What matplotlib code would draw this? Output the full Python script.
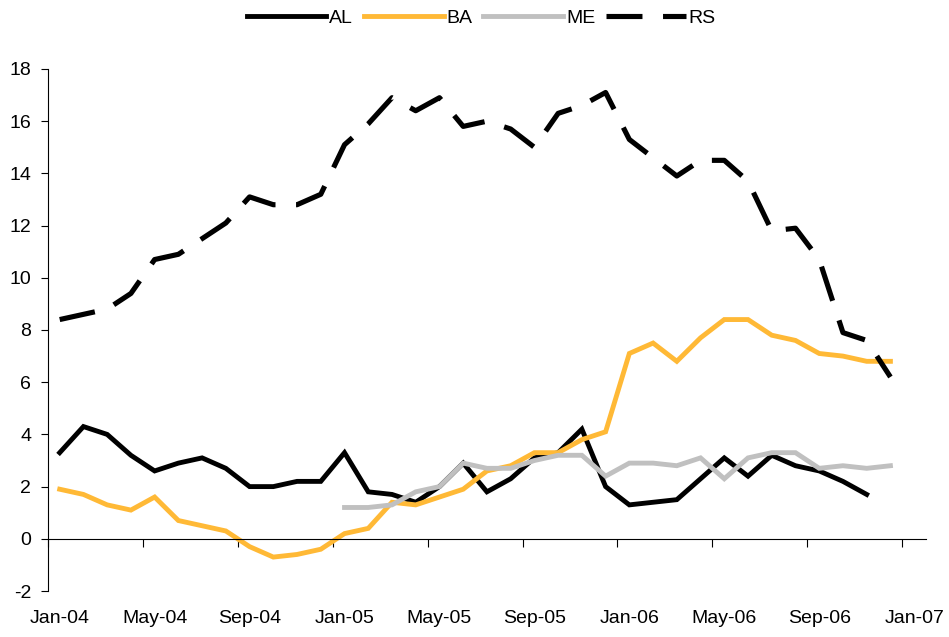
import numpy as np
import matplotlib
matplotlib.use("Agg")
import matplotlib.pyplot as plt

plt.rcParams['font.family'] = ['Liberation Sans', 'DejaVu Sans']
plt.rcParams['axes.unicode_minus'] = False

# monthly data, Jan-04 .. Dec-06
al = [3.3, 4.3, 4.0, 3.2, 2.6, 2.9, 3.1, 2.7, 2.0, 2.0, 2.2, 2.2,
      3.3, 1.8, 1.7, 1.4, 2.0, 2.9, 1.8, 2.3, 3.1, 3.3, 4.2, 2.0,
      1.3, 1.4, 1.5, 2.3, 3.1, 2.4, 3.2, 2.8, 2.6, 2.2, 1.7]
ba = [1.9, 1.7, 1.3, 1.1, 1.6, 0.7, 0.5, 0.3, -0.3, -0.7, -0.6, -0.4,
      0.2, 0.4, 1.4, 1.3, 1.6, 1.9, 2.6, 2.8, 3.3, 3.3, 3.8, 4.1,
      7.1, 7.5, 6.8, 7.7, 8.4, 8.4, 7.8, 7.6, 7.1, 7.0, 6.8, 6.8]
me = [np.nan] * 12 + [1.2, 1.2, 1.3, 1.8, 2.0, 2.9, 2.7, 2.7, 3.0, 3.2, 3.2, 2.4,
                      2.9, 2.9, 2.8, 3.1, 2.3, 3.1, 3.3, 3.3, 2.7, 2.8, 2.7, 2.8]
rs = [8.4, 8.6, 8.8, 9.4, 10.7, 10.9, 11.5, 12.1, 13.1, 12.8, 12.8, 13.2,
      15.1, 15.9, 16.9, 16.4, 16.9, 15.8, 16.0, 15.7, 15.0, 16.3, 16.6, 17.1,
      15.3, 14.6, 13.9, 14.5, 14.5, 13.7, 11.8, 11.9, 10.7, 7.9, 7.6, 6.2]
tick_labels = ['Jan-04', 'May-04', 'Sep-04', 'Jan-05', 'May-05', 'Sep-05',
               'Jan-06', 'May-06', 'Sep-06', 'Jan-07']

fig = plt.figure(figsize=(9.49, 6.37), dpi=100)
ax = fig.add_axes([0.0504, 0.0722, 0.9254, 0.8195])

ax.plot(np.arange(len(al)), al, color='black', lw=3.5, label='AL', solid_joinstyle='miter')
ax.plot(np.arange(len(ba)), ba, color='#FFB936', lw=3.5, label='BA', solid_joinstyle='miter')
ax.plot(np.arange(len(me)), me, color='#C0C0C0', lw=3.5, label='ME', solid_joinstyle='miter')
ax.plot(np.arange(len(rs)), rs, color='black', lw=3.7, label='RS',
        dashes=(7, 4), dash_capstyle='butt')

ax.set_xlim(-0.5, 36.5)
ax.set_ylim(-2, 18)
ax.set_yticks(range(-2, 19, 2))

# tick marks between months, labels on the months
ax.set_xticks(np.arange(-0.5, 36, 4))
ax.set_xticklabels([])
ax.set_xticks(np.arange(0, 37, 4), minor=True)
ax.set_xticklabels(tick_labels, minor=True)
ax.tick_params(axis='x', which='major', direction='out', length=6, width=0.8)
ax.tick_params(axis='x', which='minor', length=0, pad=51, labelsize=14)
ax.tick_params(axis='y', direction='out', length=5, width=0.8, pad=7, labelsize=14)

ax.spines['top'].set_visible(False)
ax.spines['right'].set_visible(False)
ax.spines['bottom'].set_position(('data', 0))
for s in ['left', 'bottom']:
    ax.spines[s].set_linewidth(0.8)

fig.legend(loc='center', bbox_to_anchor=(0.507, 0.972), ncol=4, frameon=False,
           fontsize=14, handlelength=4.1, handletextpad=0.15, columnspacing=0.55)

fig.savefig('out.png', dpi=100)
